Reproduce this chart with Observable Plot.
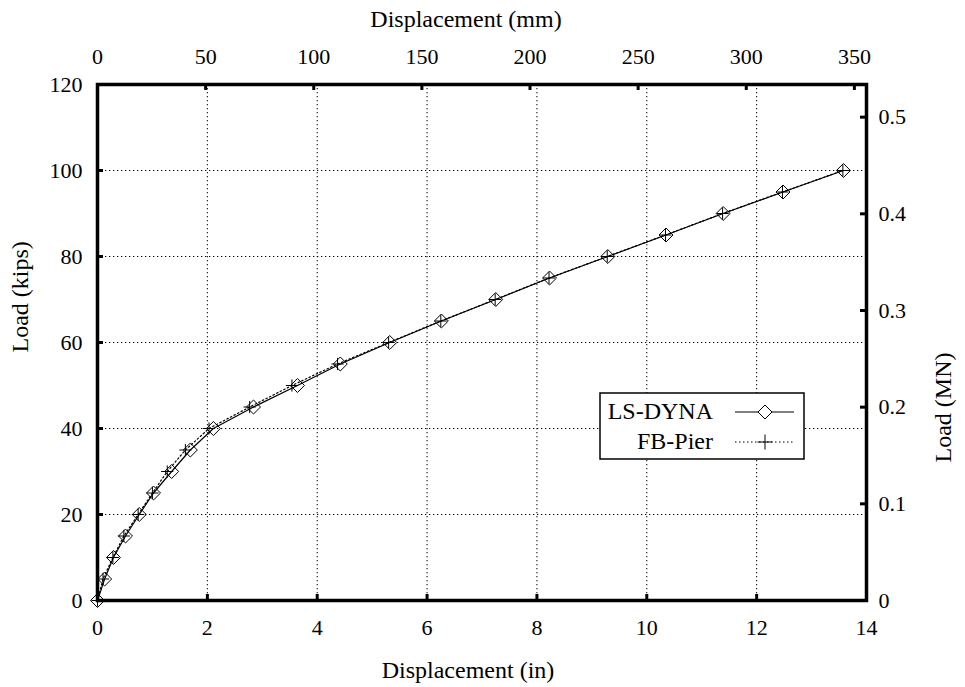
<!DOCTYPE html>
<html>
<head>
<meta charset="utf-8">
<script src="https://cdn.jsdelivr.net/npm/d3@7"></script>
<script src="https://cdn.jsdelivr.net/npm/@observablehq/plot@0.6"></script>
<style>
  html, body { margin: 0; padding: 0; background: #fff; }
  #chart { width: 965px; height: 687px; }
</style>
</head>
<body>
<div id="chart"></div>
<script>
// ---- data ----
const loadKips = [0, 5, 10, 15, 20, 25, 30, 35, 40, 45, 50, 55, 60, 65, 70, 75, 80, 85, 90, 95, 100];
const lsdynaDispIn = [0, 0.13, 0.29, 0.51, 0.76, 1.02, 1.35, 1.69, 2.11, 2.84, 3.64, 4.42, 5.32, 6.26, 7.25, 8.23, 9.29, 10.35, 11.39, 12.48, 13.58];
const fbpierDispIn = [0, 0.10, 0.28, 0.48, 0.74, 1.00, 1.27, 1.60, 2.03, 2.77, 3.54, 4.37, 5.30, 6.25, 7.24, 8.22, 9.28, 10.34, 11.38, 12.47, 13.57];

const xTicksIn = [0, 2, 4, 6, 8, 10, 12, 14];
const yTicksKips = [0, 20, 40, 60, 80, 100, 120];
const xTicksMm = [0, 50, 100, 150, 200, 250, 300, 350];
const yTicksMN = [0, 0.1, 0.2, 0.3, 0.4, 0.5];
const gridX = [2, 4, 6, 8, 10, 12];
const gridY = [20, 40, 60, 80, 100];

const seriesNames = ["LS-DYNA", "FB-Pier"];

const MM_PER_IN = 25.4;
const KIPS_PER_MN = 224.809;

const ls = loadKips.map((y, i) => ({x: lsdynaDispIn[i], y}));
const fb = loadKips.map((y, i) => ({x: fbpierDispIn[i], y}));

// ---- layout ----
const W = 965, H = 687;
const mT = 84, mB = 87, mL = 97, mR = 99;
const fw = W - mL - mR, fh = H - mT - mB;
const TICK = 6;
const FONT = "'Liberation Serif', 'Times New Roman', serif";
const txt = {fontFamily: FONT, fill: "#000"};

const plot = Plot.plot({
  width: W,
  height: H,
  marginTop: mT, marginBottom: mB, marginLeft: mL, marginRight: mR,
  style: {fontFamily: FONT, background: "#fff", color: "#000"},
  x: {domain: [0, 14]},
  y: {domain: [0, 120]},
  marks: [
    Plot.gridX(gridX, {stroke: "#000", strokeOpacity: 1, strokeWidth: 1, strokeDasharray: "1.3,2.7"}),
    Plot.gridY(gridY, {stroke: "#000", strokeOpacity: 1, strokeWidth: 1, strokeDasharray: "1.3,2.7"}),
    Plot.line(fb, {x: "x", y: "y", stroke: "#000", strokeWidth: 1.2, strokeDasharray: "1.5,2.5"}),
    Plot.line(ls, {x: "x", y: "y", stroke: "#000", strokeWidth: 1.2}),
    Plot.dot(fb, {x: "x", y: "y", symbol: "plus", r: 4, stroke: "#000", strokeWidth: 1}),
    Plot.dot(ls, {x: "x", y: "y", symbol: "diamond2", r: 6.3, stroke: "#000", fill: "none", strokeWidth: 1}),
    Plot.frame({stroke: "#000", strokeWidth: 3.5}),
    // inward ticks
    Plot.tickX(xTicksIn, {x: d => d, insetTop: fh - TICK, stroke: "#000", strokeWidth: 3}),
    Plot.tickX(xTicksMm.map(m => m / MM_PER_IN), {x: d => d, insetBottom: fh - TICK, stroke: "#000", strokeWidth: 3}),
    Plot.tickY(yTicksKips, {y: d => d, insetRight: fw - TICK, stroke: "#000", strokeWidth: 3}),
    Plot.tickY(yTicksMN.map(v => v * KIPS_PER_MN), {y: d => d, insetLeft: fw - TICK, stroke: "#000", strokeWidth: 3}),
    // axes
    Plot.axisX(xTicksIn, {...txt, anchor: "bottom", tickSize: 0, tickPadding: 19, fontSize: 22, label: null, tickFormat: d => String(d)}),
    Plot.axisX(xTicksMm.map(m => m / MM_PER_IN), {...txt, anchor: "top", tickSize: 0, tickPadding: 21, fontSize: 22, label: null,
      tickFormat: d => String(Math.round(d * MM_PER_IN))}),
    Plot.axisY(yTicksKips, {...txt, anchor: "left", tickSize: 0, tickPadding: 15, fontSize: 22, label: null, tickFormat: d => String(d)}),
    Plot.axisY(yTicksMN.map(v => v * KIPS_PER_MN), {...txt, anchor: "right", tickSize: 0, tickPadding: 12, fontSize: 22, label: null,
      tickFormat: d => String(Math.round(d / KIPS_PER_MN * 10) / 10)}),
    // axis titles
    Plot.text(["Displacement (in)"], {...txt, frameAnchor: "bottom", text: d => d, lineAnchor: "bottom", dy: 77, dx: -14, fontSize: 24}),
    Plot.text(["Displacement (mm)"], {...txt, frameAnchor: "top", text: d => d, lineAnchor: "bottom", dy: -58, dx: -16, fontSize: 24}),
    Plot.text(["Load (kips)"], {...txt, frameAnchor: "left", text: d => d, rotate: -90, lineAnchor: "bottom", dx: -70, dy: 10, fontSize: 24}),
    Plot.text(["Load (MN)"], {...txt, frameAnchor: "right", text: d => d, rotate: -90, lineAnchor: "bottom", dx: 84, dy: 10, fontSize: 24})
  ]
});

document.getElementById("chart").appendChild(plot);

// ---- legend ----
const svg = d3.select(plot);
const lg = svg.append("g").attr("font-size", 24);
lg.append("rect").attr("x", 600).attr("y", 393).attr("width", 204).attr("height", 66)
  .attr("fill", "#fff").attr("stroke", "#000").attr("stroke-width", 1.5);
const rows = [{y: 412, dash: null, sym: "diamond"}, {y: 442, dash: "1.5,2.5", sym: "plus"}];
rows.forEach((r, i) => {
  lg.append("text").attr("x", 713).attr("y", r.y + 7).attr("text-anchor", "end").attr("fill", "#000").text(seriesNames[i]);
  lg.append("line").attr("x1", 735).attr("x2", 794).attr("y1", r.y).attr("y2", r.y)
    .attr("stroke", "#000").attr("stroke-width", 1.2).attr("stroke-dasharray", r.dash);
  if (r.sym === "diamond") {
    lg.append("path").attr("d", `M765,${r.y - 7}L772,${r.y}L765,${r.y + 7}L758,${r.y}Z`)
      .attr("fill", "#fff").attr("stroke", "#000").attr("stroke-width", 1);
  } else {
    lg.append("path").attr("d", `M757.5,${r.y}H772.5M765,${r.y - 7.5}V${r.y + 7.5}`)
      .attr("stroke", "#000").attr("stroke-width", 1);
  }
});

// force serif font on every text element (inline style beats any stylesheet)
svg.selectAll("text").style("font-family", FONT).style("font-variant", "normal");
svg.selectAll("g").style("font-family", FONT);
</script>
</body>
</html>
